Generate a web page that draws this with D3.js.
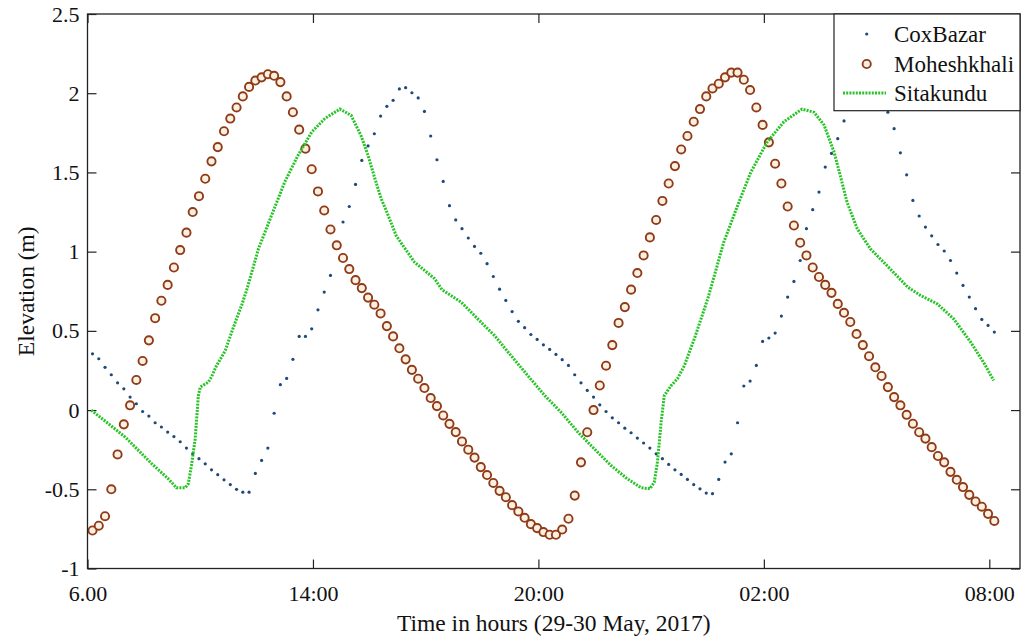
<!DOCTYPE html>
<html>
<head>
<meta charset="utf-8">
</head>
<body style="margin:0; background:#fff">
<div id="graphe"></div>
<script src="https://cdnjs.cloudflare.com/ajax/libs/d3/7.8.5/d3.min.js"></script>
<script>

//////////////////// data ////////////////////
// x axis: minutes after the first tick, ticks every 6 hours
let tickMinutes = [0, 360, 720, 1080, 1440];
let tickLabels = ['6.00', '14:00', '20:00', '02:00', '08:00'];
let yTicks = [-1, -0.5, 0, 0.5, 1, 1.5, 2, 2.5];
let yTickLabels = ['-1', '-0.5', '0', '0.5', '1', '1.5', '2', '2.5'];

// CoxBazar and Moheshkhali : one reading every 10 min
let START_MIN = 8;
let STEP_MIN = 10;

let coxBazar = [
    0.355, 0.324, 0.27, 0.223, 0.172, 0.134, 0.082, 0.04, -0.009, -0.038,
    -0.08, -0.107, -0.139, -0.167, -0.2, -0.24, -0.276, -0.307, -0.339, -0.377,
    -0.408, -0.44, -0.47, -0.5, -0.518, -0.518, -0.4, -0.318, -0.24, -0.02,
    0.16, 0.2, 0.32, 0.465, 0.465, 0.513, 0.633, 0.745, 0.85, 1.02,
    1.187, 1.285, 1.424, 1.576, 1.667, 1.744, 1.856, 1.917, 1.955, 2.027,
    2.035, 2.003, 1.97, 1.885, 1.73, 1.58, 1.443, 1.29, 1.2, 1.145,
    1.086, 1.033, 0.99, 0.924, 0.843, 0.763, 0.692, 0.622, 0.56, 0.52,
    0.477, 0.446, 0.412, 0.383, 0.351, 0.318, 0.282, 0.223, 0.172, 0.124,
    0.082, 0.033, -0.009, -0.049, -0.08, -0.114, -0.143, -0.177, -0.208, -0.24,
    -0.276, -0.307, -0.343, -0.377, -0.406, -0.438, -0.47, -0.497, -0.524, -0.528,
    -0.438, -0.328, -0.276, -0.08, 0.152, 0.183, 0.282, 0.433, 0.455, 0.486,
    0.593, 0.713, 0.812, 0.944, 1.145, 1.265, 1.376, 1.534, 1.62, 1.713,
    1.825, 1.9, 1.95, 2.0, 2.02, 2.0, 1.95, 1.88, 1.776, 1.624,
    1.485, 1.323, 1.225, 1.155, 1.1, 1.045, 1.004, 0.944, 0.865, 0.787,
    0.713, 0.64, 0.572, 0.534, 0.492
];

let moheshkhali = [
    -0.76, -0.73, -0.67, -0.5, -0.28, -0.09, 0.03, 0.19, 0.31, 0.44,
    0.58, 0.69, 0.79, 0.9, 1.01, 1.12, 1.25, 1.35, 1.46, 1.57,
    1.66, 1.76, 1.84, 1.91, 1.98, 2.04, 2.08, 2.1, 2.12, 2.11,
    2.07, 1.98, 1.88, 1.77, 1.65, 1.52, 1.38, 1.26, 1.14, 1.04,
    0.96, 0.89, 0.82, 0.77, 0.71, 0.665, 0.61, 0.53, 0.465, 0.39,
    0.32, 0.254, 0.198, 0.139, 0.076, 0.025, -0.034, -0.087, -0.139, -0.198,
    -0.25, -0.3, -0.36, -0.41, -0.46, -0.51, -0.55, -0.6, -0.64, -0.68,
    -0.72, -0.745, -0.77, -0.787, -0.787, -0.754, -0.686, -0.54, -0.33, -0.14,
    0.0, 0.155, 0.28, 0.41, 0.55, 0.65, 0.76, 0.865, 0.976, 1.09,
    1.2, 1.32, 1.43, 1.54, 1.645, 1.73, 1.82, 1.9, 1.98, 2.03,
    2.06, 2.1, 2.13, 2.13, 2.085, 2.02, 1.91, 1.8, 1.69, 1.555,
    1.43, 1.285, 1.165, 1.056, 0.976, 0.9, 0.84, 0.79, 0.74, 0.67,
    0.614, 0.556, 0.48, 0.41, 0.34, 0.27, 0.215, 0.145, 0.082, 0.03,
    -0.03, -0.086, -0.14, -0.18, -0.234, -0.29, -0.33, -0.39, -0.44, -0.486,
    -0.535, -0.577, -0.61, -0.655, -0.7
];

// Sitakundu : dense record
let sitakunduTime = [
    6, 60, 103, 129, 142, 156, 161, 166, 172, 177,
    180, 193, 198, 206, 220, 230, 238, 246, 254, 273,
    294, 315, 336, 358, 379, 403, 421, 437, 448, 459,
    469, 480, 493, 522, 554, 566, 597, 623, 650, 676,
    703, 730, 756, 783, 809, 836, 862, 884, 898, 905,
    910, 916, 921, 932, 942, 953, 969, 991, 1016, 1038,
    1059, 1085, 1112, 1141, 1160, 1176, 1192, 1202, 1213, 1229,
    1250, 1282, 1310, 1330, 1357, 1383, 1410, 1431, 1447
];
let sitakunduValue = [
    0.0, -0.17, -0.34, -0.434, -0.49, -0.49, -0.465, -0.35, -0.18, 0.09,
    0.145, 0.177, 0.21, 0.28, 0.376, 0.49, 0.576, 0.66, 0.755, 1.018,
    1.23, 1.44, 1.607, 1.755, 1.84, 1.9, 1.86, 1.73, 1.607, 1.46,
    1.334, 1.23, 1.1, 0.934, 0.83, 0.76, 0.68, 0.576, 0.47, 0.345,
    0.218, 0.092, -0.013, -0.139, -0.244, -0.35, -0.434, -0.49, -0.497, -0.455,
    -0.33, -0.076, 0.092, 0.155, 0.198, 0.28, 0.45, 0.71, 1.06, 1.29,
    1.5, 1.69, 1.82, 1.9, 1.88, 1.8, 1.63, 1.48, 1.31, 1.145,
    1.018, 0.89, 0.775, 0.724, 0.67, 0.576, 0.43, 0.3, 0.187
];

let series = ['CoxBazar', 'Moheshkhali', 'Sitakundu'];

//////////////////// page ////////////////////
let W = 1027;
let H = 640;
let X0 = 87.5, X1 = 1020;
let Y0 = 568.5, Y1 = 14;
let TICK = 9;
let FONT = 'Liberation Serif';
let INK = '#222';

let x = d3.scaleLinear().domain([0, 1489]).range([X0, X1]);
let y = d3.scaleLinear().domain([-1, 2.5]).range([Y0, Y1]);
let tMin = (d, i) => START_MIN + i * STEP_MIN;

let svg = d3.select('#graphe').append('svg')
    .attr('width', W)
    .attr('height', H)
    .attr('font-family', FONT);

// every text goes through here
function serif(sel, size) {
    return sel.attr('font-family', FONT)
        .attr('font-size', size)
        .style('font-family', `"${FONT}"`)
        .style('font-size', size + 'px')
        .attr('fill', '#111');
}

//////////////////// axes ////////////////////
function styleAxe(g) {
    g.attr('font-family', FONT).attr('font-size', 22);
    g.select('.domain').remove();
    g.selectAll('line').attr('stroke', INK).attr('stroke-width', 1.2);
    serif(g.selectAll('text'), 22);
}

svg.append('g')
    .attr('transform', `translate(0, ${Y0})`)
    .call(d3.axisBottom(x).tickValues(tickMinutes)
        .tickFormat((d, i) => tickLabels[i])
        .tickSizeInner(-TICK).tickSizeOuter(0).tickPadding(17))
    .call(styleAxe);

svg.append('g')
    .attr('transform', `translate(0, ${Y1})`)
    .call(d3.axisTop(x).tickValues(tickMinutes)
        .tickFormat('').tickSizeInner(-TICK).tickSizeOuter(0))
    .call(styleAxe);

svg.append('g')
    .attr('transform', `translate(${X0}, 0)`)
    .call(d3.axisLeft(y).tickValues(yTicks)
        .tickFormat((d, i) => yTickLabels[i])
        .tickSizeInner(-TICK).tickSizeOuter(0).tickPadding(8))
    .call(styleAxe);

svg.append('g')
    .attr('transform', `translate(${X1}, 0)`)
    .call(d3.axisRight(y).tickValues(yTicks)
        .tickFormat('').tickSizeInner(-TICK).tickSizeOuter(0))
    .call(styleAxe);

//////////////////// series ////////////////////
let plot = svg.append('g');

plot.selectAll('.cox').data(coxBazar).enter()
    .append('circle')
    .classed('cox', true)
    .attr('cx', (d, i) => x(tMin(d, i)))
    .attr('cy', d => y(d))
    .attr('r', 1.6)
    .attr('fill', '#1d4a7c');

plot.selectAll('.mohe').data(moheshkhali).enter()
    .append('circle')
    .classed('mohe', true)
    .attr('cx', (d, i) => x(tMin(d, i)))
    .attr('cy', d => y(d))
    .attr('r', 4.1)
    .attr('fill', '#fdf0e2')
    .attr('stroke', '#8e3b17')
    .attr('stroke-width', 1.9);

let ligne = d3.line().x(d => x(d[0])).y(d => y(d[1]));
plot.append('path')
    .datum(d3.zip(sitakunduTime, sitakunduValue))
    .attr('d', ligne)
    .attr('fill', 'none')
    .attr('stroke', '#27c427')
    .attr('stroke-width', 3)
    .attr('stroke-dasharray', '2,1.2');

// frame over the data
svg.append('rect')
    .attr('x', X0).attr('y', Y1)
    .attr('width', X1 - X0).attr('height', Y0 - Y1)
    .attr('fill', 'none').attr('stroke', INK).attr('stroke-width', 1.3);

//////////////////// labels ////////////////////
svg.append('text')
    .attr('x', (X0 + X1) / 2)
    .attr('y', 631)
    .attr('text-anchor', 'middle')
    .call(serif, 23.5)
    .text('Time in hours (29-30 May, 2017)');

svg.append('text')
    .attr('transform', `translate(34, ${(Y0 + Y1) / 2}) rotate(-90)`)
    .attr('text-anchor', 'middle')
    .call(serif, 23.5)
    .text('Elevation (m)');

//////////////////// legend ////////////////////
let leg = svg.append('g');
leg.append('rect')
    .attr('x', 834).attr('y', Y1)
    .attr('width', X1 - 834).attr('height', 110.7 - Y1)
    .attr('fill', '#fff').attr('stroke', INK).attr('stroke-width', 1.2);

let legY = [34, 64, 93];
leg.append('circle').attr('cx', 866.7).attr('cy', legY[0]).attr('r', 1.6).attr('fill', '#1d4a7c');
leg.append('circle').attr('cx', 866.7).attr('cy', legY[1]).attr('r', 4.1)
    .attr('fill', '#fdf0e2').attr('stroke', '#8e3b17').attr('stroke-width', 1.9);
leg.append('line').attr('x1', 843).attr('x2', 886).attr('y1', legY[2]).attr('y2', legY[2])
    .attr('stroke', '#27c427').attr('stroke-width', 3).attr('stroke-dasharray', '2,1.2');

series.forEach((s, i) => {
    leg.append('text')
        .attr('x', 894)
        .attr('y', legY[i])
        .attr('dy', '0.33em')
        .call(serif, 23)
        .text(s);
});

</script>
</body>
</html>
